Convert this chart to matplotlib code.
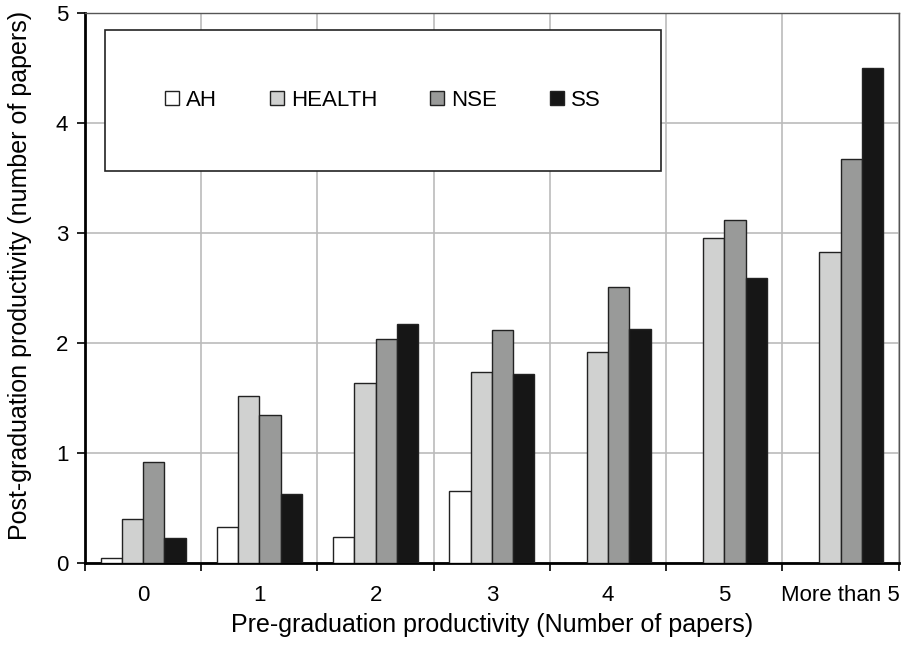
import numpy as np
import matplotlib.pyplot as plt
from matplotlib.ticker import FixedLocator

categories = ['0', '1', '2', '3', '4', '5', 'More than 5']
ah = [0.05, 0.325, 0.24, 0.655, 0, 0, 0]
health = [0.40, 1.52, 1.64, 1.74, 1.92, 2.95, 2.83]
nse = [0.915, 1.35, 2.04, 2.12, 2.51, 3.12, 3.67]
ss = [0.23, 0.63, 2.17, 1.72, 2.13, 2.59, 4.50]

series = [('AH', ah, '#ffffff'), ('HEALTH', health, '#d0d1d0'),
          ('NSE', nse, '#999a99'), ('SS', ss, '#161616')]

plt.rcParams['font.family'] = ['Liberation Sans', 'DejaVu Sans']

fig = plt.figure(figsize=(9.17, 6.45), dpi=100)
ax = fig.add_axes([0.0927, 0.127, 0.8873, 0.853])

x = np.arange(len(categories))
w = 0.183
for i, (name, vals, col) in enumerate(series):
    ax.bar(x + (i - 1.5) * w, vals, w, color=col, edgecolor='#222222',
           linewidth=1, label=name, zorder=3)

ax.set_xlim(-0.5, len(categories) - 0.5)
ax.set_ylim(0, 5)
ax.set_yticks(range(6))
ax.set_xticks(x)
ax.set_xticklabels(categories)
ax.xaxis.set_minor_locator(FixedLocator(np.arange(-0.5, len(categories), 1)))
ax.tick_params(axis='x', which='major', length=0, pad=16, labelsize=16)
ax.tick_params(axis='x', which='minor', length=6, width=1.2, direction='out')
ax.tick_params(axis='y', length=6, width=1.2, pad=6, labelsize=16)

ax.grid(True, axis='y', which='major', color='#bbbbbb', linewidth=1.2, zorder=0)
ax.grid(True, axis='x', which='minor', color='#bbbbbb', linewidth=1.2, zorder=0)
ax.grid(False, axis='x', which='major')

ax.spines['left'].set_linewidth(2)
ax.spines['bottom'].set_linewidth(2)
for s in ['top', 'right']:
    ax.spines[s].set_color('#555555')
    ax.spines[s].set_linewidth(1)

ax.set_xlabel('Pre-graduation productivity (Number of papers)', fontsize=18, labelpad=5)
ax.set_ylabel('Post-graduation productivity (number of papers)', fontsize=18)
ax.yaxis.set_label_coords(-0.065, 0.522)

leg = ax.legend(ncol=4, loc='upper left', bbox_to_anchor=(0.0246, 0.969),
                borderaxespad=0, borderpad=2.7, fontsize=16, columnspacing=2.4,
                handlelength=0.63, handleheight=0.63, handletextpad=0.3,
                fancybox=False, framealpha=1, edgecolor='#222222')
leg.get_frame().set_linewidth(1.2)
leg.set_zorder(5)

fig.savefig('out.png', dpi=100)
